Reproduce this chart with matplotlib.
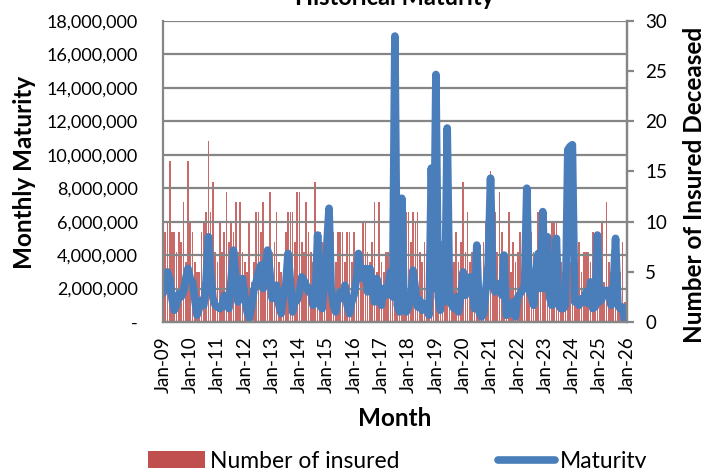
import numpy as np
import pandas as pd
import matplotlib.pyplot as plt
import matplotlib.dates as mdates
from matplotlib.ticker import FuncFormatter, MultipleLocator
from matplotlib.patches import Patch
from matplotlib.lines import Line2D

plt.rcParams['font.family'] = ['Lato', 'DejaVu Sans']

# monthly data, Jan-09 .. Dec-25
months = pd.date_range('2009-01-01', periods=204, freq='MS')

# number of insured deceased per month (right axis)
insured = [
    7, 9, 10, 16, 9, 9, 7, 9, 8, 12, 6, 16,
    10, 9, 6, 5, 5, 9, 10, 11, 18, 11, 14, 7,
    6, 10, 7, 9, 13, 8, 10, 9, 12, 7, 12, 7,
    6, 5, 10, 4, 6, 11, 11, 9, 12, 7, 6, 13,
    7, 8, 11, 6, 5, 4, 9, 11, 11, 11, 8, 13,
    13, 8, 7, 12, 9, 7, 6, 14, 7, 9, 8, 8,
    9, 8, 6, 9, 6, 9, 9, 9, 6, 9, 9, 6,
    9, 7, 7, 6, 10, 10, 7, 6, 8, 12, 5, 12,
    6, 5, 7, 7, 16, 5, 8, 6, 5, 9, 11, 11,
    11, 8, 11, 10, 11, 7, 6, 8, 5, 6, 7, 8,
    6, 7, 5, 7, 7, 4, 6, 5, 6, 9, 6, 8,
    14, 7, 11, 6, 7, 6, 7, 6, 2, 8, 10, 8,
    15, 6, 11, 7, 13, 9, 6, 5, 11, 5, 8, 6,
    7, 9, 5, 8, 6, 6, 9, 7, 7, 11, 11, 7,
    6, 8, 7, 10, 10, 10, 8, 6, 5, 7, 9, 6,
    7, 5, 6, 8, 5, 7, 7, 7, 6, 9, 7, 6,
    5, 10, 4, 12, 6, 5, 4, 6, 3, 5, 8, 2,
]

# monthly maturity in millions (left axis)
maturity_m = [
    1.7, 2.2, 3.0, 2.6, 1.4, 0.7, 1.0, 1.7, 1.5, 1.8, 2.6, 3.2,
    2.6, 2.4, 1.4, 0.4, 0.8, 1.3, 1.0, 2.5, 5.1, 3.0, 1.4, 1.0,
    0.9, 0.8, 0.9, 1.6, 1.2, 0.8, 2.5, 4.3, 2.8, 1.2, 1.9, 2.6,
    1.5, 0.6, 0.2, 0.9, 1.9, 2.4, 3.0, 3.4, 2.0, 3.3, 4.3, 3.0,
    1.4, 1.9, 2.2, 1.0, 0.5, 1.5, 2.2, 4.1, 2.5, 0.6, 1.2, 1.3,
    1.8, 2.7, 2.5, 2.2, 1.8, 2.0, 1.0, 1.5, 5.2, 1.0, 0.8, 2.5,
    4.5, 6.8, 2.0, 1.0, 0.6, 1.5, 1.8, 1.4, 2.2, 1.0, 0.5, 1.2,
    1.6, 2.5, 4.1, 3.0, 2.6, 3.2, 1.8, 3.2, 2.2, 1.2, 2.6, 2.0,
    1.0, 2.0, 1.6, 2.2, 3.0, 1.5, 17.1, 1.0, 0.6, 7.4, 1.0, 0.6,
    0.9, 1.4, 3.1, 2.0, 0.9, 1.3, 0.7, 1.1, 0.9, 0.4, 9.2, 2.0,
    14.8, 1.5, 0.7, 4.6, 1.2, 11.6, 1.8, 1.0, 0.8, 1.5, 0.6, 1.6,
    3.0, 1.6, 2.6, 2.7, 2.2, 0.8, 4.6, 0.6, 0.3, 0.5, 2.0, 3.5,
    8.6, 2.2, 1.8, 1.9, 2.3, 1.6, 4.0, 0.4, 0.7, 0.5, 1.2, 0.3,
    1.5, 1.7, 1.9, 2.2, 8.0, 1.9, 1.5, 1.0, 3.0, 4.1, 2.0, 6.6,
    2.0, 5.1, 1.5, 1.0, 2.0, 5.0, 1.0, 0.8, 0.8, 1.0, 10.3, 10.5,
    10.6, 1.2, 1.3, 1.0, 1.4, 1.2, 1.8, 1.1, 2.4, 0.8, 0.9, 5.2,
    1.2, 1.4, 1.9, 1.7, 1.9, 1.0, 2.0, 5.0, 1.0, 0.8, 0.9, 0.1,
]
maturity = np.array(maturity_m) * 1e6

red = '#C0504D'
blue = '#4A7EBB'
gray = '#868686'

fig = plt.figure(figsize=(7.04, 4.68), dpi=100)
ax = fig.add_axes([163 / 704, 1 - 322 / 468, 464 / 704, 301 / 468])
ax2 = ax.twinx()

# bars on the right axis, drawn behind the line axis
ax2.bar(months, insured, width=22, color=red, alpha=0.85, linewidth=0)
ax2.set_ylim(0, 30)
ax2.yaxis.set_major_locator(MultipleLocator(5))
ax.set_zorder(ax2.get_zorder() + 1)
ax.patch.set_visible(False)

ax.plot(months, maturity, color=blue, lw=5.5, solid_joinstyle='round', solid_capstyle='round')
ax.set_ylim(0, 18e6)
ax.yaxis.set_major_locator(MultipleLocator(2e6))
ax.yaxis.set_major_formatter(FuncFormatter(lambda v, p: '-' if v == 0 else f'{v:,.0f}'))
ax.set_xlim(pd.Timestamp('2009-01-01'), pd.Timestamp('2026-01-01'))
ax.xaxis.set_major_locator(mdates.YearLocator())
ax.xaxis.set_major_formatter(mdates.DateFormatter('%b-%y'))
ax.grid(axis='y', color=gray, lw=1.6)
ax.set_axisbelow(True)

for a in (ax, ax2):
    for s in a.spines.values():
        s.set_color(gray)
        s.set_linewidth(1.6)
ax2.spines['left'].set_visible(False)
ax2.spines['top'].set_visible(False)
ax.spines['top'].set_visible(False)

ax.tick_params(axis='y', length=0, pad=18, labelsize=13)
ax.tick_params(axis='x', length=0, pad=10, labelsize=13.5, labelrotation=90)
ax2.tick_params(axis='y', length=5, width=1.6, color=gray, pad=8, labelsize=13.5)

fig.text(395 / 704, 1 - 5 / 468, 'Historical Maturity', ha='center', va='baseline',
         fontsize=17, fontweight='bold')
fig.text(25 / 704, 1 - 172 / 468, 'Monthly Maturity', rotation=90, ha='center', va='center',
         fontsize=17.5, fontweight='bold')
fig.text(694 / 704, 1 - 185 / 468, 'Number of Insured Deceased', rotation=90, ha='center',
         va='center', fontsize=17.5, fontweight='bold')
fig.text(395 / 704, 1 - 418 / 468, 'Month', ha='center', va='center',
         fontsize=17.5, fontweight='bold')

handles = [Patch(facecolor=red, label='Number of insured'),
           Line2D([], [], color=blue, lw=5.5, solid_capstyle='round', label='Maturity')]
fig.legend(handles=handles, loc='center', bbox_to_anchor=(0.565, 0.014), ncol=2,
           frameon=False, fontsize=16.5, handlelength=2.5, handleheight=0.8,
           columnspacing=4.3, handletextpad=0.2)

fig.savefig('out.png', dpi=100)
